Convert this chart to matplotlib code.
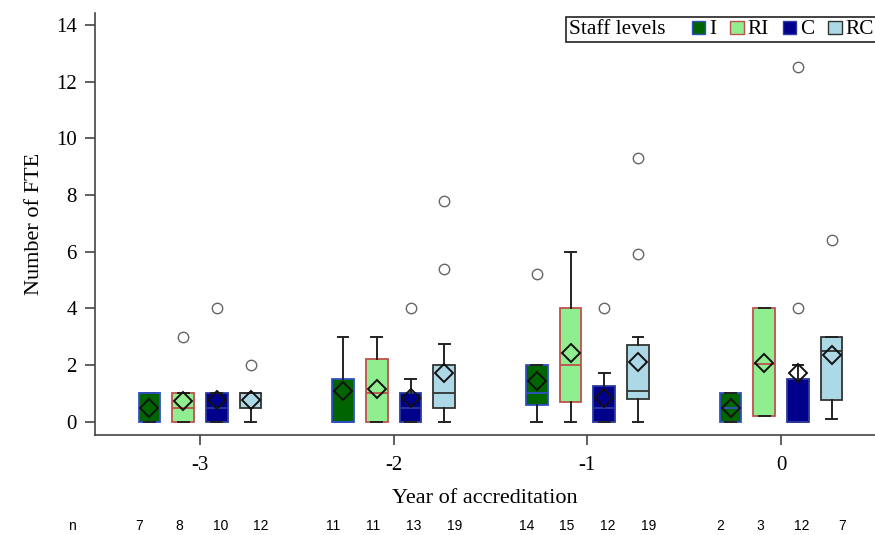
import matplotlib
matplotlib.use("Agg")
import matplotlib.pyplot as plt
import matplotlib.transforms as mtransforms
from matplotlib.offsetbox import AnchoredOffsetbox, HPacker, TextArea, DrawingArea
from matplotlib.patches import Rectangle

years = [-3, -2, -1, 0]
levels = ["I", "RI", "C", "RC"]

# box statistics, one value per year for each staff level
q1 = {"I": [0, 0, 0.6, 0], "RI": [0, 0, 0.7, 0.2],
      "C": [0, 0, 0, 0], "RC": [0.5, 0.5, 0.8, 0.75]}
med = {"I": [1, 0, 1.0, 0.5], "RI": [0.5, 1.0, 2.0, 2.05],
       "C": [0.5, 0.5, 0.5, 0], "RC": [1.0, 1.0, 1.1, 2.5]}
q3 = {"I": [1, 1.5, 2.0, 1.0], "RI": [1, 2.2, 4.0, 4.0],
      "C": [1, 1.0, 1.25, 1.5], "RC": [1.0, 2.0, 2.7, 3.0]}
whislo = {"I": [0, 0, 0, 0], "RI": [0, 0, 0, 0.2],
          "C": [0, 0, 0, 0], "RC": [0, 0, 0, 0.1]}
whishi = {"I": [1, 3.0, 2.0, 1.0], "RI": [1, 3.0, 6.0, 4.0],
          "C": [1, 1.5, 1.7, 2.0], "RC": [1.0, 2.75, 3.0, 3.0]}
means = {"I": [0.5, 1.1, 1.42, 0.5], "RI": [0.74, 1.14, 2.42, 2.07],
         "C": [0.75, 0.83, 0.85, 1.7], "RC": [0.78, 1.7, 2.1, 2.35]}
outliers = {"I": [[], [], [5.2], []],
            "RI": [[3.0], [], [], []],
            "C": [[4.0], [4.0], [4.0], [4.0, 12.5]],
            "RC": [[2.0], [5.4, 7.8], [5.9, 9.3], [6.4]]}
n_obs = {"I": [7, 11, 14, 2], "RI": [8, 11, 15, 3],
         "C": [10, 13, 12, 12], "RC": [12, 19, 19, 7]}

fill = {"I": "#006400", "RI": "#90ee90", "C": "#00008b", "RC": "#add8e6"}
edge = {"I": "#3050c8", "RI": "#c0504d", "C": "#2b3aa0", "RC": "#333333"}

serif = "Liberation Serif"
plt.rcParams["font.family"] = serif

fig = plt.figure(figsize=(8.75, 5.35), dpi=100)
ax = fig.add_axes([95 / 875, 100 / 535, 1 - 95 / 875, 422.3 / 535])

step = 0.174
box_w = 0.111
for i, lev in enumerate(levels):
    stats = []
    for j, yr in enumerate(years):
        stats.append(dict(q1=q1[lev][j], med=med[lev][j], q3=q3[lev][j],
                          whislo=whislo[lev][j], whishi=whishi[lev][j],
                          mean=means[lev][j], fliers=outliers[lev][j]))
    pos = [yr + (i - 1.5) * step for yr in years]
    bp = ax.bxp(stats, positions=pos, widths=box_w, patch_artist=True,
                showmeans=True, manage_ticks=False, capwidths=box_w * 0.5,
                boxprops=dict(facecolor=fill[lev], edgecolor=edge[lev], linewidth=1.3),
                medianprops=dict(color=edge[lev], linewidth=1.3),
                whiskerprops=dict(color="#222222", linewidth=1.4),
                capprops=dict(color="#222222", linewidth=1.4),
                meanprops=dict(marker="D", markerfacecolor="none",
                               markeredgecolor="#111111", markersize=9,
                               markeredgewidth=1.4),
                flierprops=dict(marker="o", markerfacecolor="none",
                                markeredgecolor="#666666", markersize=7.5,
                                markeredgewidth=1.0))

ax.set_xlim(-3.542, 0.485)
ax.set_ylim(-0.47, 14.43)
ax.set_xticks(years)
ax.set_xticklabels([str(y) for y in years])
ax.set_yticks(range(0, 15, 2))
for s in ["top", "right"]:
    ax.spines[s].set_visible(False)
for s in ["left", "bottom"]:
    ax.spines[s].set_color("#444444")
    ax.spines[s].set_linewidth(1.2)
ax.tick_params(axis="both", length=7, width=1.2, color="#444444",
               labelsize=15, pad=6)
ax.tick_params(axis="x", pad=8)
ax.set_xlabel("Year of accreditation", fontsize=16, labelpad=10)
ax.set_ylabel("Number of FTE", fontsize=16, labelpad=9)

# sample sizes under each box
trans = mtransforms.blended_transform_factory(ax.transData, fig.transFigure)
nfont = dict(family="Liberation Sans", fontsize=10)
fig.text(72 / 875, 9 / 535, "n", ha="center", va="center", **nfont)
for i, lev in enumerate(levels):
    for j, yr in enumerate(years):
        ax.text(yr + (i - 1.5) * 0.21, 9 / 535, str(n_obs[lev][j]),
                transform=trans, ha="center", va="center", clip_on=False, **nfont)

# legend: title and swatches on one line
tprops = dict(fontsize=15.3, family=serif)
pairs = []
for lev in levels:
    da = DrawingArea(9.5, 9.5, 0, 0)
    da.add_artist(Rectangle((0, 0), 9.5, 9.5, facecolor=fill[lev],
                            edgecolor=edge[lev], linewidth=1.0))
    pairs.append(HPacker(children=[da, TextArea(lev, textprops=tprops)],
                         align="baseline", pad=0, sep=3))
row = HPacker(children=[TextArea("Staff levels", textprops=tprops),
                        HPacker(children=pairs, align="baseline", pad=0, sep=10)],
              align="baseline", pad=0, sep=19)
leg = AnchoredOffsetbox(loc="upper left", child=row, pad=0.15, borderpad=0,
                        frameon=True, prop=dict(size=15.3),
                        bbox_to_anchor=(566 / 875, 518 / 535),
                        bbox_transform=fig.transFigure)
leg.patch.set_edgecolor("#222222")
leg.patch.set_linewidth(1.2)
leg.set_zorder(5)
ax.add_artist(leg)

fig.savefig("out.png", dpi=100)
